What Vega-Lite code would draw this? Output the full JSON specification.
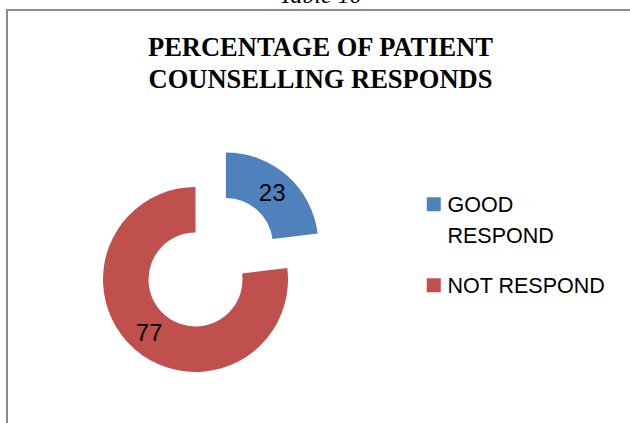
{
  "$schema": "https://vega.github.io/schema/vega-lite/v6.json",
  "width": 625,
  "height": 415,
  "autosize": {"type": "none"},
  "padding": {"left": 7, "top": 10, "right": -2, "bottom": -2},
  "background": "white",
  "view": {"stroke": "#8c8c8c", "strokeWidth": 2},
  "config": {
    "view": {"stroke": "#8c8c8c", "strokeWidth": 2},
    "style": {"cell": {"stroke": "#8c8c8c", "strokeWidth": 2}, "guide-label": {"lineHeight": 31}}
  },
  "title": {
    "text": "Table 10",
    "subtitle": ["PERCENTAGE OF PATIENT", "COUNSELLING RESPONDS"],
    "anchor": "middle",
    "frame": "group",
    "orient": "top",
    "offset": -83,
    "dx": 1,
    "font": "Liberation Serif",
    "fontStyle": "italic",
    "fontWeight": "normal",
    "fontSize": 24,
    "color": "#000000",
    "subtitleFont": "Liberation Serif",
    "subtitleFontWeight": "bold",
    "subtitleFontSize": 26.5,
    "subtitleColor": "#000000",
    "subtitleLineHeight": 32,
    "subtitlePadding": 27
  },
  "data": {
    "values": [
      {"category": "GOOD RESPOND", "value": 23},
      {"category": "NOT RESPOND", "value": 77}
    ]
  },
  "encoding": {
    "theta": {"field": "value", "type": "quantitative", "stack": true},
    "color": {
      "field": "category",
      "type": "nominal",
      "sort": ["GOOD RESPOND", "NOT RESPOND"],
      "scale": {"domain": ["GOOD RESPOND", "NOT RESPOND"], "range": ["#4F81BD", "#C0504D"]},
      "legend": {
        "title": null,
        "orient": "none",
        "legendX": 416,
        "legendY": 191,
        "symbolType": "M-1,-2.07H1V-0.07H-1Z",
        "symbolSize": 196,
        "symbolStrokeWidth": 0,
        "labelFont": "Liberation Sans",
        "labelFontSize": 21.5,
        "labelColor": "#000000",
        "labelBaseline": "alphabetic",
        "labelLimit": 0,
        "labelOffset": 3,
        "rowPadding": 27,
        "labelExpr": "datum.label == 'GOOD RESPOND' ? ['GOOD', 'RESPOND'] : datum.label"
      }
    }
  },
  "layer": [
    {
      "mark": {"type": "arc", "x": 188.5, "y": 269.5, "radius": 92.5, "radius2": 47},
      "encoding": {"opacity": {"condition": {"test": "datum.category == 'GOOD RESPOND'", "value": 0}, "value": 1}}
    },
    {
      "mark": {"type": "arc", "x": 188.5, "y": 269.5, "xOffset": 30.4, "yOffset": -34.5, "radius": 92.5, "radius2": 47},
      "encoding": {"opacity": {"condition": {"test": "datum.category == 'GOOD RESPOND'", "value": 1}, "value": 0}}
    },
    {
      "mark": {"type": "text", "x": 188.5, "y": 269.5, "radius": 70, "font": "Liberation Sans", "fontSize": 24, "align": "center", "baseline": "middle", "dy": 2},
      "encoding": {
        "text": {"field": "value", "type": "quantitative"},
        "color": {"value": "#000000"},
        "opacity": {"condition": {"test": "datum.category == 'GOOD RESPOND'", "value": 0}, "value": 1}
      }
    },
    {
      "mark": {"type": "text", "x": 188.5, "y": 269.5, "xOffset": 30.4, "yOffset": -34.5, "radius": 70, "font": "Liberation Sans", "fontSize": 24, "align": "center", "baseline": "middle", "dy": 2},
      "encoding": {
        "text": {"field": "value", "type": "quantitative"},
        "color": {"value": "#000000"},
        "opacity": {"condition": {"test": "datum.category == 'GOOD RESPOND'", "value": 1}, "value": 0}
      }
    }
  ]
}
